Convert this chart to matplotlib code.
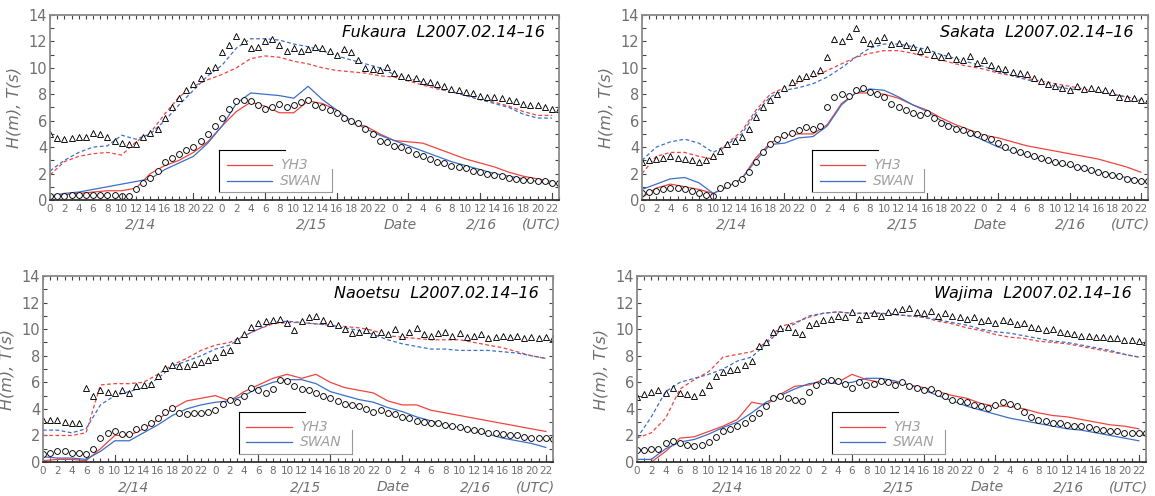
import numpy as np
import matplotlib
matplotlib.use("Agg")
import matplotlib.pyplot as plt
from matplotlib import transforms

# hours since 2/14 00 UTC
t_obs = np.arange(72)
t_mod = np.arange(0, 72, 2)
hour_labels = [str(h % 24) for h in range(0, 72, 2)]

# ---------------- Fukaura ----------------
fuk_T_obs = [5.0, 4.7, 4.6, 4.7, 4.8, 4.8, 5.1, 5.0, 4.8, 4.5, 4.3, 4.2,
             4.2, 4.8, 5.1, 5.4, 6.2, 7.0, 7.7, 8.3, 8.8, 9.2, 9.8, 10.1,
             11.2, 11.7, 12.4, 12.0, 11.5, 11.6, 12.0, 12.2, 11.7, 11.3, 11.5, 11.3,
             11.4, 11.6, 11.5, 11.3, 11.0, 11.4, 11.2, 10.6, 10.0, 9.9, 9.8, 10.1,
             9.6, 9.4, 9.3, 9.2, 9.0, 8.9, 8.8, 8.6, 8.4, 8.3, 8.2, 8.1,
             7.9, 7.8, 7.8, 7.7, 7.6, 7.5, 7.3, 7.2, 7.2, 7.0, 6.9, 6.9]
fuk_H_obs = [0.3, 0.3, 0.3, 0.4, 0.4, 0.4, 0.4, 0.4, 0.4, 0.4, 0.3, 0.3,
             0.8, 1.3, 1.7, 2.2, 2.9, 3.2, 3.5, 3.8, 4.0, 4.5, 5.0, 5.6,
             6.2, 6.9, 7.5, 7.6, 7.5, 7.2, 6.9, 7.0, 7.3, 7.0, 7.2, 7.4,
             7.6, 7.2, 7.0, 6.8, 6.6, 6.2, 6.0, 5.8, 5.4, 5.0, 4.5, 4.4,
             4.1, 4.0, 3.8, 3.5, 3.3, 3.1, 2.9, 2.8, 2.6, 2.5, 2.4, 2.2,
             2.1, 2.0, 1.9, 1.8, 1.7, 1.6, 1.5, 1.5, 1.4, 1.4, 1.3, 1.3]
fuk_T_yh3 = [1.9, 2.9, 3.3, 3.5, 3.6, 3.4, 4.4, 5.1, 6.5, 7.8, 8.6, 9.1,
             9.5, 10.0, 10.7, 10.9, 10.8, 10.5, 10.3, 10.0, 9.8, 9.7, 9.6, 9.4,
             9.3, 9.0, 8.7, 8.4, 8.2, 7.9, 7.6, 7.4, 7.1, 6.7, 6.4, 6.4]
fuk_T_swan = [2.2, 3.0, 3.6, 4.0, 4.1, 4.9, 4.6, 5.0, 6.0, 7.2, 8.3, 9.4,
              10.2, 11.5, 12.2, 12.2, 12.1, 11.8, 11.6, 11.3, 10.9, 10.6, 10.3, 10.0,
              9.5, 9.2, 8.9, 8.5, 8.2, 7.9, 7.6, 7.3, 7.0, 6.5, 6.2, 6.2]
fuk_H_yh3 = [0.2, 0.4, 0.5, 0.6, 0.7, 0.7, 0.9, 2.0, 2.6, 3.0, 3.6, 4.4,
             5.6, 6.7, 7.4, 7.1, 6.6, 6.6, 7.5, 7.3, 6.8, 5.8, 5.6, 5.0,
             4.5, 4.4, 4.3, 3.9, 3.5, 3.1, 2.8, 2.5, 2.1, 1.8, 1.6, 1.4]
fuk_H_swan = [0.3, 0.5, 0.6, 0.8, 1.0, 1.2, 1.4, 1.6, 2.3, 2.8, 3.3, 4.3,
              5.6, 7.3, 8.1, 8.0, 7.9, 7.7, 8.6, 7.6, 6.8, 6.0, 5.4, 4.9,
              4.5, 4.1, 3.7, 3.3, 2.9, 2.6, 2.3, 2.0, 1.8, 1.6, 1.4, 1.2]

# ---------------- Sakata ----------------
sak_T_obs = [2.9, 3.0, 3.1, 3.2, 3.3, 3.2, 3.1, 3.0, 2.9, 3.0, 3.3, 3.7,
             4.2, 4.5, 4.8, 5.4, 6.3, 7.0, 7.6, 8.0, 8.5, 8.9, 9.2, 9.4,
             9.6, 9.8, 10.8, 12.2, 12.0, 12.4, 13.0, 12.2, 11.9, 12.1, 12.3, 11.8,
             11.9, 11.7, 11.6, 11.3, 11.4, 11.0, 10.8, 11.0, 10.7, 10.6, 10.9, 10.4,
             10.6, 10.2, 10.0, 9.9, 9.7, 9.6, 9.5, 9.2, 9.0, 8.8, 8.6, 8.5,
             8.3, 8.6, 8.4, 8.5, 8.4, 8.3, 8.2, 7.8, 7.7, 7.7, 7.6, 7.6]
sak_H_obs = [0.5, 0.6, 0.7, 0.8, 0.9, 0.9, 0.8, 0.7, 0.5, 0.4, 0.3, 0.9,
             1.1, 1.3, 1.6, 2.1, 2.9, 3.6, 4.2, 4.6, 4.9, 5.1, 5.3, 5.5,
             5.4, 5.6, 7.0, 7.8, 8.0, 7.9, 8.3, 8.5, 8.2, 8.0, 7.8, 7.3,
             7.0, 6.8, 6.6, 6.4, 6.6, 6.2, 5.8, 5.6, 5.4, 5.3, 5.1, 5.0,
             4.8, 4.6, 4.3, 4.0, 3.8, 3.6, 3.5, 3.3, 3.2, 3.0, 2.9, 2.8,
             2.7, 2.5, 2.4, 2.3, 2.1, 2.0, 1.9, 1.8, 1.6, 1.5, 1.4, 1.4]
sak_T_yh3 = [2.0, 3.3, 3.6, 3.6, 3.3, 3.1, 4.3, 5.2, 6.8, 8.0, 8.5, 8.9,
             9.3, 9.8, 10.3, 10.8, 11.1, 11.3, 11.3, 11.1, 10.8, 10.6, 10.3, 10.1,
             9.9, 9.6, 9.4, 9.2, 9.0, 8.8, 8.6, 8.4, 8.2, 8.0, 7.8, 7.6]
sak_T_swan = [3.0, 4.0, 4.4, 4.6, 4.3, 3.6, 4.2, 5.0, 6.6, 7.8, 8.3, 8.5,
              8.8, 9.3, 10.0, 10.8, 11.5, 11.8, 11.8, 11.6, 11.4, 11.0, 10.7, 10.4,
              10.1, 9.7, 9.4, 9.1, 8.9, 8.6, 8.4, 8.3, 8.2, 8.0, 7.8, 7.5]
sak_H_yh3 = [0.2, 0.9, 1.2, 1.0, 0.8, 0.5, 1.0, 1.6, 3.2, 4.3, 4.9, 5.0,
             5.0, 5.7, 7.3, 8.1, 8.1, 8.0, 7.7, 7.2, 6.8, 6.2, 5.7, 5.3,
             4.9, 4.7, 4.4, 4.1, 3.9, 3.7, 3.5, 3.3, 3.1, 2.8, 2.5, 2.1]
sak_H_swan = [0.8, 1.2, 1.6, 1.7, 1.3, 0.5, 1.0, 1.6, 3.0, 4.2, 4.3, 4.7,
              4.8, 5.6, 7.2, 8.1, 8.4, 8.3, 7.8, 7.2, 6.7, 6.0, 5.5, 5.0,
              4.5, 4.0, 3.7, 3.4, 3.1, 2.8, 2.6, 2.3, 2.1, 1.9, 1.7, 1.4]

# ---------------- Naoetsu ----------------
nao_T_obs = [3.2, 3.2, 3.2, 3.0, 2.9, 2.9, 5.6, 5.0, 5.4, 5.3, 5.2, 5.4,
             5.2, 5.7, 5.8, 5.9, 6.5, 7.1, 7.3, 7.2, 7.2, 7.4, 7.5, 7.7,
             7.9, 8.3, 8.4, 9.2, 9.6, 10.2, 10.5, 10.6, 10.7, 10.8, 10.5, 9.9,
             10.6, 10.9, 11.0, 10.7, 10.5, 10.3, 10.0, 9.7, 9.8, 9.9, 9.6, 9.8,
             9.6, 10.0, 9.5, 9.8, 10.1, 9.6, 9.5, 9.7, 9.8, 9.5, 9.7, 9.4,
             9.5, 9.6, 9.3, 9.4, 9.5, 9.4, 9.5, 9.3, 9.4, 9.3, 9.4, 9.3]
nao_H_obs = [0.6, 0.7, 0.8, 0.8, 0.7, 0.7, 0.6, 1.0, 1.8, 2.2, 2.3, 2.1,
             2.1, 2.5, 2.6, 2.9, 3.3, 3.8, 4.1, 3.7, 3.6, 3.7, 3.7, 3.8,
             3.9, 4.4, 4.7, 4.5, 5.0, 5.6, 5.4, 5.2, 5.5, 6.2, 6.1, 5.7,
             5.5, 5.4, 5.2, 5.0, 4.8, 4.6, 4.4, 4.3, 4.2, 4.0, 3.8, 3.9,
             3.7, 3.6, 3.4, 3.3, 3.1, 3.0, 2.9, 2.9, 2.8, 2.7, 2.6, 2.5,
             2.4, 2.3, 2.2, 2.2, 2.1, 2.0, 2.0, 1.9, 1.8, 1.8, 1.8, 1.7]
nao_T_yh3 = [2.0, 2.0, 2.0, 2.2, 5.8, 5.9, 5.9, 6.0, 6.6, 7.3, 7.8, 8.4,
             8.8, 9.0, 9.5, 10.0, 10.4, 10.5, 10.5, 10.4, 10.3, 10.2, 10.1, 9.9,
             9.5, 9.4, 9.3, 9.2, 9.2, 9.2, 9.0, 8.8, 8.6, 8.3, 8.0, 7.8]
nao_T_swan = [2.4, 2.4, 2.2, 2.5, 4.3, 5.0, 5.3, 5.6, 6.3, 7.2, 7.6, 8.0,
              8.5, 8.8, 9.5, 10.0, 10.5, 10.6, 10.5, 10.4, 10.3, 10.1, 9.9, 9.6,
              9.2, 8.9, 8.7, 8.5, 8.5, 8.4, 8.4, 8.4, 8.3, 8.2, 8.0, 7.8]
nao_H_yh3 = [0.1, 0.2, 0.2, 0.1, 1.0, 2.0, 2.0, 2.5, 3.2, 4.0, 4.6, 4.8,
             5.0, 4.6, 5.3, 5.8, 6.3, 6.6, 6.3, 6.6, 6.0, 5.6, 5.4, 5.2,
             4.6, 4.3, 4.3, 3.9, 3.7, 3.5, 3.3, 3.1, 2.9, 2.7, 2.5, 2.3]
nao_H_swan = [0.4, 0.3, 0.3, 0.2, 0.8, 1.6, 1.6, 2.2, 2.8, 3.5, 4.0, 4.3,
              4.5, 4.6, 5.0, 5.6, 6.0, 6.2, 6.2, 5.9, 5.3, 5.0, 4.7, 4.5,
              4.1, 3.8, 3.4, 3.1, 2.8, 2.6, 2.3, 2.1, 1.8, 1.6, 1.4, 1.1]

# ---------------- Wajima ----------------
waj_T_obs = [4.9, 5.1, 5.3, 5.4, 5.2, 5.6, 5.2, 5.1, 5.0, 5.3, 5.8, 6.5,
             6.8, 6.9, 7.0, 7.3, 7.6, 8.7, 9.0, 9.8, 10.1, 10.2, 9.8, 9.6,
             10.3, 10.5, 10.7, 10.8, 11.0, 10.9, 11.3, 10.8, 11.1, 11.2, 11.0, 11.3,
             11.4, 11.5, 11.6, 11.3, 11.2, 11.4, 11.0, 11.2, 11.0, 10.9, 10.8, 10.9,
             10.6, 10.7, 10.5, 10.7, 10.6, 10.4, 10.5, 10.2, 10.1, 9.9, 10.0, 9.8,
             9.7, 9.6, 9.5, 9.5, 9.4, 9.4, 9.3, 9.3, 9.2, 9.2, 9.1, 9.0]
waj_H_obs = [0.9, 0.9, 1.0, 1.0, 1.4, 1.6, 1.4, 1.3, 1.2, 1.3, 1.5, 1.9,
             2.3, 2.5, 2.7, 2.9, 3.3, 3.7, 4.2, 4.8, 5.0, 4.8, 4.7, 4.6,
             5.3, 5.8, 6.1, 6.2, 6.1, 5.9, 5.6, 6.0, 5.8, 5.9, 6.1, 6.0,
             5.8, 6.0, 5.7, 5.6, 5.4, 5.5, 5.2, 5.0, 4.7, 4.6, 4.5, 4.3,
             4.2, 4.1, 4.3, 4.5, 4.4, 4.2, 3.8, 3.4, 3.2, 3.1, 2.9, 2.9,
             2.8, 2.7, 2.7, 2.6, 2.5, 2.4, 2.3, 2.3, 2.2, 2.2, 2.2, 2.2]
waj_T_yh3 = [1.8, 2.2, 3.3, 5.5, 6.2, 6.8, 7.9, 8.1, 8.3, 9.0, 10.2, 10.5,
             10.9, 11.2, 11.3, 11.2, 11.2, 11.2, 11.1, 11.0, 10.9, 10.6, 10.4, 10.1,
             9.9, 9.6, 9.4, 9.3, 9.1, 9.0, 8.9, 8.7, 8.5, 8.3, 8.1, 7.9]
waj_T_swan = [1.8, 3.4, 5.3, 6.0, 6.3, 6.6, 7.0, 7.6, 7.9, 8.9, 9.9, 10.4,
              11.0, 11.2, 11.3, 11.2, 11.2, 11.2, 11.1, 11.0, 10.9, 10.7, 10.5, 10.3,
              10.0, 9.8, 9.7, 9.5, 9.3, 9.1, 9.0, 8.8, 8.6, 8.4, 8.1, 7.9]
waj_H_yh3 = [0.0, 0.0, 0.8, 1.8, 1.9, 2.3, 2.7, 3.2, 4.5, 4.3, 5.1, 5.7,
             5.8, 6.2, 6.0, 6.6, 6.2, 6.0, 6.0, 5.8, 5.6, 5.3, 5.0, 4.8,
             4.4, 4.2, 4.2, 4.0, 3.7, 3.5, 3.4, 3.2, 3.0, 2.8, 2.7, 2.5]
waj_H_swan = [0.2, 0.2, 1.0, 1.5, 1.7, 2.1, 2.6, 3.0, 3.7, 4.5, 5.0, 5.5,
              5.9, 6.0, 5.9, 6.0, 6.3, 6.3, 6.1, 5.8, 5.4, 5.0, 4.6, 4.2,
              3.9, 3.6, 3.3, 3.1, 2.9, 2.7, 2.5, 2.4, 2.2, 2.0, 1.8, 1.6]

RED = '#f0453f'
BLUE = '#3d6fc8'
GRAY = '#707070'


def panel(rect, name, T_obs, H_obs, T_yh3, T_swan, H_yh3, H_swan, leg_x):
    ax = fig.add_axes(rect)
    # model T (dashed) and H (solid)
    ax.plot(t_mod, T_yh3, color=RED, lw=0.9, ls=(0, (3, 2)))
    ax.plot(t_mod, T_swan, color=BLUE, lw=0.9, ls=(0, (3, 2)))
    ax.plot(t_mod, H_yh3, color=RED, lw=0.9)
    ax.plot(t_mod, H_swan, color=BLUE, lw=0.9)
    # observations
    ax.plot(t_obs, T_obs, ls='none', marker='^', ms=4.6, mfc='white', mec='black', mew=0.65)
    ax.plot(t_obs, H_obs, ls='none', marker='o', ms=4.2, mfc='white', mec='black', mew=0.65)

    ax.set_xlim(0, 71)
    ax.set_ylim(0, 14)
    ax.set_xticks(range(0, 72, 2))
    ax.set_xticklabels(hour_labels)
    ax.set_xticks(range(0, 72), minor=True)
    ax.set_yticks(range(0, 15, 2))
    ax.set_yticks(range(0, 15), minor=True)
    ax.tick_params(axis='x', which='both', direction='in', top=True, length=3,
                   width=0.8, color='#444', labelsize=7.5, labelcolor=GRAY, pad=3)
    ax.tick_params(axis='y', which='both', direction='in', right=True, length=3,
                   width=0.8, color='#444', labelsize=10.5, labelcolor=GRAY, pad=2)
    for x in range(0, 72, 10):
        ax.axvline(x, 0, 0.04, color='#444', lw=0.8)
    for s in ax.spines.values():
        s.set_color('#8a8a8a')
        s.set_linewidth(1.3)
    ax.spines['bottom'].set_color('#333')
    ax.set_ylabel('H(m), T(s)', fontsize=11.5, color=GRAY, style='italic', labelpad=5)

    tr = transforms.blended_transform_factory(ax.transData, ax.transAxes)
    for x, s in [(12.6, '2/14'), (36.5, '2/15'), (48.8, 'Date'), (60.2, '2/16'), (68.6, '(UTC)')]:
        ax.text(x, -0.135, s, transform=tr, ha='center', va='center',
                fontsize=10, color=GRAY, style='italic')

    ax.text(0.972, 0.905, name, transform=ax.transAxes, ha='right', va='center',
            fontsize=11.5, style='italic', color='black')

    # legend box
    x0, x1, y0, y1 = leg_x, leg_x + 0.222, 0.045, 0.27
    ta = ax.transAxes
    ax.plot([x0, x0 + 0.13], [y1, y1], transform=ta, color='black', lw=0.8)
    ax.plot([x0, x0], [y0, y1], transform=ta, color='black', lw=0.8)
    ax.plot([x0, x1], [y0, y0], transform=ta, color='#999', lw=0.8)
    ax.plot([x1, x1], [y0, y1 - 0.1], transform=ta, color='#999', lw=0.8)
    ax.plot([x0 + 0.015, x0 + 0.105], [0.19, 0.19], transform=ta, color=RED, lw=0.9)
    ax.plot([x0 + 0.015, x0 + 0.105], [0.105, 0.105], transform=ta, color=BLUE, lw=0.9)
    ax.text(x0 + 0.12, 0.19, 'YH3', transform=ta, va='center', fontsize=10,
            color='#a0a0a0', style='italic')
    ax.text(x0 + 0.12, 0.105, 'SWAN', transform=ta, va='center', fontsize=10,
            color='#a0a0a0', style='italic')
    return ax


fig = plt.figure(figsize=(11.55, 4.96), dpi=100)
panel([0.0433, 0.5968, 0.4407, 0.373], 'Fukaura  L2007.02.14\u201316',
      fuk_T_obs, fuk_H_obs, fuk_T_yh3, fuk_T_swan, fuk_H_yh3, fuk_H_swan, 0.332)
panel([0.5558, 0.5968, 0.4381, 0.373], 'Sakata  L2007.02.14\u201316',
      sak_T_obs, sak_H_obs, sak_T_yh3, sak_T_swan, sak_H_yh3, sak_H_swan, 0.336)
panel([0.0372, 0.0685, 0.4416, 0.375], 'Naoetsu  L2007.02.14\u201316',
      nao_T_obs, nao_H_obs, nao_T_yh3, nao_T_swan, nao_H_yh3, nao_H_swan, 0.384)
panel([0.5515, 0.0685, 0.4407, 0.375], 'Wajima  L2007.02.14\u201316',
      waj_T_obs, waj_H_obs, waj_T_yh3, waj_T_swan, waj_H_yh3, waj_H_swan, 0.383)

fig.savefig('out.png', dpi=100)
